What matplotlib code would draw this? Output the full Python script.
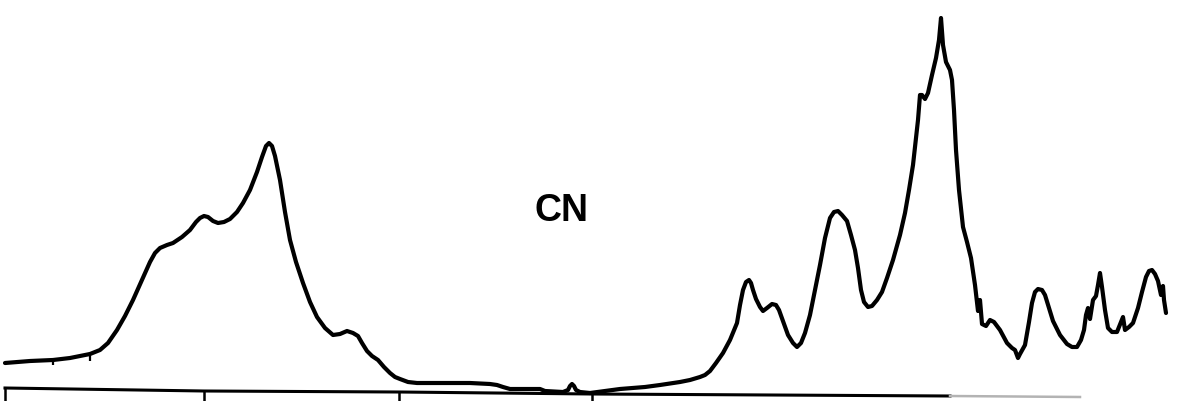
import matplotlib
matplotlib.use("Agg")
import matplotlib.pyplot as plt

# CN band trace, split into three stretches: position and signal height
left_pos = [5, 30, 53, 70, 90, 100, 108, 117, 125, 133, 142, 150, 155, 160, 167,
            173, 182, 190, 196, 200, 204, 208, 213, 218, 224, 230, 237, 243, 250,
            257, 262, 266, 269, 272, 275, 280, 285, 290, 296, 303, 310, 317, 325,
            333, 340, 347, 353, 358, 362, 367, 372, 378, 384, 390, 395, 400, 408]
left_sig = [38, 40, 41, 43, 47, 51, 58, 71, 85, 101, 121, 139, 148, 153, 156,
            158, 164, 171, 179, 183, 185, 184, 180, 178, 179, 182, 189, 198, 211,
            229, 244, 255, 258, 255, 245, 221, 189, 161, 139, 118, 99, 84, 73,
            66, 67, 70, 68, 65, 58, 50, 45, 41, 34, 28, 24, 22, 19]

mid_pos = [417, 433, 470, 490, 497, 503, 510, 517, 540, 545, 563, 568, 570, 572,
           574, 576, 580, 590, 605, 620, 645, 660, 680, 690, 700]
mid_sig = [18, 18, 18, 17, 16, 14, 12, 12, 12, 10, 9, 11, 15, 17,
           15, 11, 9, 8, 10, 12, 14, 16, 19, 21, 24]

right_pos = [705, 710, 716, 723, 730, 737, 740, 743, 746, 749,
             751, 753, 756, 760, 763, 767, 772, 776, 779, 783,
             788, 793, 797, 801, 805, 810, 815, 820, 825, 830,
             834, 838, 842, 847, 851, 855, 858, 861, 864, 868,
             872, 877, 882, 887, 893, 900, 905, 909, 913, 916,
             918, 920, 922, 925, 928, 932, 936, 939, 941, 943,
             946, 950, 952, 954, 956, 959, 963, 967, 971, 975,
             978, 980, 982, 986, 990, 994, 1000, 1007, 1012, 1015,
             1018, 1020, 1025, 1029, 1032, 1035, 1038, 1042, 1045, 1049,
             1053, 1060, 1067, 1072, 1077, 1081, 1084, 1086, 1088, 1090,
             1093, 1096, 1098, 1100, 1102, 1105, 1108, 1112, 1117, 1121,
             1123, 1125, 1129, 1133, 1138, 1142, 1146, 1149, 1152, 1155,
             1158, 1161, 1163, 1164, 1166]
right_sig = [26, 30, 38, 48, 61, 78, 96, 111, 119, 121,
             118, 111, 102, 94, 90, 93, 97, 96, 91, 80,
             66, 58, 54, 58, 68, 86, 111, 136, 163, 183,
             189, 190, 186, 180, 166, 151, 133, 111, 99, 94,
             95, 101, 109, 123, 141, 166, 188, 211, 236, 263,
             281, 306, 306, 302, 308, 326, 343, 361, 383, 356,
             339, 331, 321, 291, 251, 211, 174, 159, 143, 116,
             90, 101, 77, 75, 81, 79, 71, 58, 53, 51,
             43, 47, 56, 79, 98, 109, 112, 111, 106, 93,
             80, 66, 57, 54, 54, 61, 71, 86, 93, 82,
             101, 105, 116, 128, 114, 91, 73, 69, 69, 79,
             84, 71, 74, 78, 93, 109, 124, 130, 131, 127,
             120, 106, 115, 101, 88]

# small pen marks on the low baseline
marks_x = [53, 90]
marks_lo = [36, 40]
marks_hi = [43, 49]

# bottom scale line and its tick positions
scale_x = [5, 204, 399, 592, 950]
scale_h = [13, 10, 9, 7, 5]
fade_x = [950, 1080]
fade_h = [5, 4]
ticks = [5, 204, 399, 592]
tick_top = [13, 10, 9, 7]

pos = left_pos + mid_pos + right_pos
signal = left_sig + mid_sig + right_sig

fig = plt.figure(figsize=(11.78, 4.01), dpi=100)
ax = fig.add_axes([0, 0, 1, 1])

ax.plot(pos, signal, color="black", lw=3.0, solid_joinstyle="round",
        solid_capstyle="round")
ax.vlines(marks_x, marks_lo, marks_hi, color="black", lw=1.6)

ax.plot(scale_x, scale_h, color="black", lw=2.2)
ax.plot(fade_x, fade_h, color="0.7", lw=1.8)
ax.vlines(ticks, 0, tick_top, color="black", lw=1.8)

ax.text(561, 190, "CN", ha="center", va="center", fontsize=27,
        fontweight="bold", family="Liberation Sans")

ax.set_xlim(0, 1178)
ax.set_ylim(0, 401)
ax.axis("off")

fig.savefig("out.png", dpi=100, facecolor="white")
plt.close(fig)
